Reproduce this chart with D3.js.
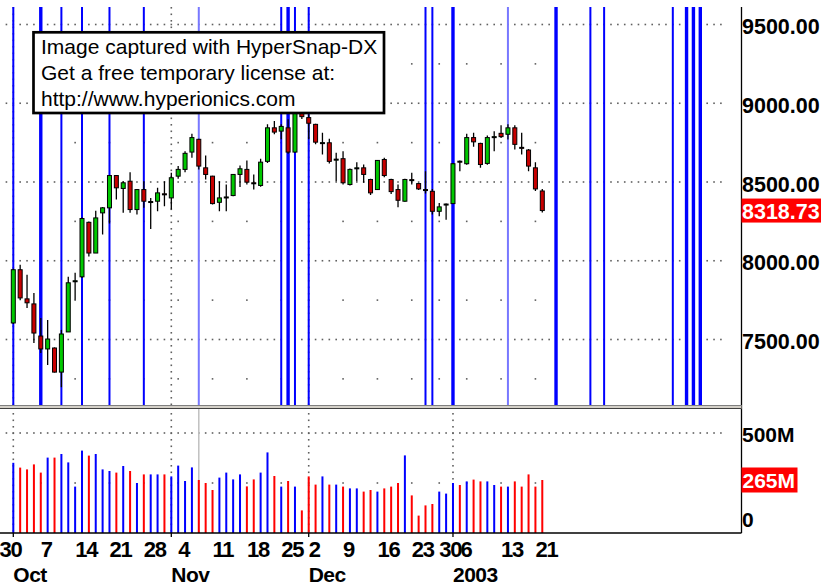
<!DOCTYPE html>
<html>
<head>
<meta charset="utf-8">
<script src="https://cdn.jsdelivr.net/npm/d3@7"></script>
<style>
  body { margin: 0; background: #fff; }
  text { font-family: Arial, "Liberation Sans", sans-serif; }
</style>
</head>
<body>
<div id="chart"></div>
<script>
// DJIA daily bars, Oct 1 2002 .. Jan 22 2003
var openP = [7605,7943,7758,7726,7522,7440,7446,7293,7548,7870,7898,8244,8049,8304,8336,8541,8459,8505,8325,8452,
  8372,8378,8425,8399,8537,8580,8690,8771,8590,8537,8371,8400,8414,8548,8580,8495,8478,8631,8844,8823,
  8844,8690,8950,8909,8866,8745,8749,8640,8648,8484,8588,8590,8516,8452,8643,8516,8452,8378,8515,8490,
  8452,8441,8314,8357,8363,8632,8616,8782,8745,8618,8785,8809,8803,8844,8720,8703,8590,8443];
var highP = [7950,7975,7911,7796,7637,7624,7450,7561,7898,7924,8275,8250,8318,8342,8545,8545,8505,8562,8455,8505,
  8399,8463,8505,8559,8601,8696,8807,8775,8669,8540,8505,8484,8550,8605,8637,8548,8648,8866,8887,8866,
  8898,8960,8990,8930,8870,8813,8775,8686,8696,8585,8626,8611,8520,8640,8654,8520,8484,8520,8559,8495,
  8569,8456,8367,8363,8620,8637,8807,8813,8750,8796,8822,8860,8866,8860,8813,8710,8626,8456];
var lowP = [7598,7750,7700,7478,7414,7338,7290,7197,7548,7752,7890,8027,8049,8166,8236,8389,8304,8304,8293,8336,
  8202,8314,8346,8325,8520,8562,8654,8580,8516,8357,8314,8314,8410,8469,8484,8452,8470,8620,8803,8771,
  8680,8685,8900,8771,8739,8675,8617,8505,8484,8478,8505,8495,8418,8450,8530,8424,8340,8375,8484,8450,
  8427,8293,8282,8260,8360,8569,8610,8724,8590,8610,8696,8780,8770,8707,8675,8569,8443,8306];
var closeP = [7943,7764,7733,7541,7440,7503,7293,7535,7860,7873,8268,8049,8272,8336,8541,8463,8495,8325,8452,8378,
  8376,8431,8420,8527,8580,8682,8782,8601,8548,8363,8399,8405,8548,8584,8499,8490,8626,8844,8817,8853,
  8690,8941,8915,8873,8753,8750,8631,8645,8495,8580,8590,8548,8431,8637,8541,8439,8384,8516,8510,8456,
  8448,8314,8342,8360,8616,8630,8782,8755,8611,8782,8788,8788,8844,8739,8717,8601,8456,8318.73];
// volume, millions of shares
var volume = [351,327,318,343,302,377,377,395,353,232,412,387,395,318,310,302,335,310,250,293,
  293,293,293,283,337,260,328,265,250,215,277,302,268,293,233,268,302,403,285,232,
  260,232,113,283,242,283,242,242,232,223,223,207,215,207,223,232,250,388,188,87,
  138,145,207,197,250,240,258,267,258,258,240,232,232,258,232,293,232,265];

var priceTicks = [9500, 9000, 8500, 8000, 7500];
var priceHalf = [9250, 8750, 8250, 7750, 7250];
var volTicks = [500];
var lastPrice = "8318.73";
var lastVol = "265M";

// bar index of first trading day of each week / month
var weekStarts = [4,9,14,19,24,29,34,39,43,48,53,58,62,66,71,76];
var dayTicks = [[-2,"30"],[4,"7"],[9,"14"],[14,"21"],[19,"28"],[24,"4"],[29,"11"],[34,"18"],[39,"25"],
  [43,"2"],[48,"9"],[53,"16"],[58,"23"],[62,"30"],[65.1,"6"],[71,"13"],[76,"21"]];
var monthStarts = [0, 23, 43, 64];
var monthNames = ["Oct", "Nov", "Dec", "2003"];

// blue time-cycle lines (bar index, past the last bar too)
var cycleBars = [0,4,7,10,14,19,27,39,40,41,43,60,61,64,72,79,84,86,96,98,99,100];
var heavyBars = [4,40,64,79,98,99,100];
var faintBars = [27,72];
var cursorBar = 27;

var noteLines = ["Image captured with HyperSnap-DX", "Get a free temporary license at:", "http://www.hyperionics.com"];

var w = 821, h = 587;
var right = 741.5;
var priceTop = 7, priceBottom = 405, volTop = 409, volBottom = 533;

var svg = d3.select("#chart").append("svg")
    .attr("width", w)
    .attr("height", h);

var x = d3.scaleLinear().domain([0, 100]).range([13.3, 700.3]);
var y = d3.scaleLinear().domain([7500, 9500]).range([339.5, 24.5]);
var yv = d3.scaleLinear().domain([0, 500]).range([volBottom, 433]);

svg.append("clipPath").attr("id", "pclip")
    .append("rect").attr("x", 0).attr("y", priceTop).attr("width", right).attr("height", priceBottom - priceTop);

var gp = svg.append("g").attr("clip-path", "url(#pclip)");
var gv = svg.append("g");

var dense = d3.range(-1, 104);

// dotted horizontal grid, price
priceTicks.forEach(function(p) {
    gp.selectAll(null).data(dense).enter().append("rect")
        .attr("x", function(i) { return x(i) - 0.8; })
        .attr("y", y(p) - 0.8)
        .attr("width", 1.6).attr("height", 1.6)
        .attr("fill", "#606060");
});
priceHalf.forEach(function(p) {
    gp.selectAll(null).data(weekStarts).enter().append("rect")
        .attr("x", function(i) { return x(i) - 0.8; })
        .attr("y", y(p) - 0.8)
        .attr("width", 1.6).attr("height", 1.6)
        .attr("fill", "#606060");
});

// dotted grid, volume
volTicks.forEach(function(v) {
    gv.selectAll(null).data(dense.filter(function(i) { return x(i) < right - 3; })).enter().append("rect")
        .attr("x", function(i) { return x(i) - 0.8; })
        .attr("y", yv(v) - 0.8)
        .attr("width", 1.6).attr("height", 1.6)
        .attr("fill", "#606060");
});
gv.selectAll(null).data(weekStarts).enter().append("rect")
    .attr("x", function(i) { return x(i) - 0.8; })
    .attr("y", yv(250) - 0.8)
    .attr("width", 1.6).attr("height", 1.6)
    .attr("fill", "#606060");

// month separators (dotted verticals)
monthStarts.forEach(function(m) {
    gp.selectAll(null).data(d3.range(priceTop, priceBottom, 6.5)).enter().append("rect")
        .attr("x", x(m) - 0.8).attr("y", function(d) { return d; })
        .attr("width", 1.6).attr("height", 1.6).attr("fill", "#606060");
    gv.selectAll(null).data(d3.range(volTop + 4, volBottom, 6.5)).enter().append("rect")
        .attr("x", x(m) - 0.8).attr("y", function(d) { return d; })
        .attr("width", 1.6).attr("height", 1.6).attr("fill", "#606060");
});

// cycle lines
gp.selectAll("line.cycle")
    .data(cycleBars)
    .enter()
    .append("line")
    .attr("class", "cycle")
    .attr("x1", function(i) { return x(i); })
    .attr("x2", function(i) { return x(i); })
    .attr("y1", priceTop)
    .attr("y2", priceBottom)
    .attr("stroke", function(i) { return faintBars.indexOf(i) >= 0 ? "#7878ff" : "#0000ff"; })
    .attr("stroke-width", function(i) { return heavyBars.indexOf(i) >= 0 ? 3.4 : 2; });

// crosshair in volume pane
gv.append("line")
    .attr("x1", x(cursorBar)).attr("x2", x(cursorBar))
    .attr("y1", volTop).attr("y2", volBottom)
    .attr("stroke", "#c0c0c0").attr("stroke-width", 1.5);

// candles
var bars = d3.range(openP.length);
var up = function(i) { return closeP[i] >= openP[i]; };

gp.selectAll("line.wick")
    .data(bars)
    .enter()
    .append("line")
    .attr("class", "wick")
    .attr("x1", function(i) { return x(i); })
    .attr("x2", function(i) { return x(i); })
    .attr("y1", function(i) { return y(highP[i]); })
    .attr("y2", function(i) { return y(lowP[i]); })
    .attr("stroke", "#000")
    .attr("stroke-width", 1.3);

gp.selectAll("rect.body")
    .data(bars)
    .enter()
    .append("rect")
    .attr("class", "body")
    .attr("x", function(i) { return x(i) - 2; })
    .attr("width", 4)
    .attr("y", function(i) { return y(Math.max(openP[i], closeP[i])); })
    .attr("height", function(i) { return Math.max(1, Math.abs(y(openP[i]) - y(closeP[i]))); })
    .attr("fill", function(i) { return up(i) ? "#00c800" : "#c80000"; })
    .attr("stroke", "#000")
    .attr("stroke-width", 1);

// volume bars
gv.selectAll("rect.vol")
    .data(bars)
    .enter()
    .append("rect")
    .attr("class", "vol")
    .attr("x", function(i) { return x(i) - 1; })
    .attr("width", 2)
    .attr("y", function(i) { return yv(volume[i]); })
    .attr("height", function(i) { return yv(0) - yv(volume[i]); })
    .attr("fill", function(i) { return up(i) ? "#0000ff" : "#ff0000"; });

// note box
var note = svg.append("g");
note.append("rect")
    .attr("x", 33.5).attr("y", 32.3)
    .attr("width", 350.5).attr("height", 80.7)
    .attr("fill", "#fff")
    .attr("stroke", "#000")
    .attr("stroke-width", 2.7);
note.selectAll("text")
    .data(noteLines)
    .enter()
    .append("text")
    .attr("x", 41)
    .attr("y", function(d, k) { return 53.5 + k * 26; })
    .attr("font-size", "21px")
    .attr("fill", "#000")
    .text(function(d) { return d; });

// pane frames
svg.append("line").attr("x1", right).attr("x2", right).attr("y1", priceTop).attr("y2", volBottom)
    .attr("stroke", "#000").attr("stroke-width", 1.3);
svg.append("rect").attr("x", 0).attr("y", priceBottom).attr("width", right).attr("height", volTop - priceBottom)
    .attr("fill", "#d4d0c8");
svg.append("line").attr("x1", 0).attr("x2", right).attr("y1", priceBottom + 0.5).attr("y2", priceBottom + 0.5)
    .attr("stroke", "#808080");
svg.append("line").attr("x1", 0).attr("x2", right).attr("y1", volTop - 0.5).attr("y2", volTop - 0.5)
    .attr("stroke", "#404040");
svg.append("line").attr("x1", 0).attr("x2", right).attr("y1", volBottom).attr("y2", volBottom)
    .attr("stroke", "#000").attr("stroke-width", 1.5);

// month ticks under axis
svg.selectAll("line.mtick")
    .data(monthStarts)
    .enter()
    .append("line")
    .attr("class", "mtick")
    .attr("x1", function(i) { return x(i); })
    .attr("x2", function(i) { return x(i); })
    .attr("y1", volBottom).attr("y2", volBottom + 4)
    .attr("stroke", "#000").attr("stroke-width", 1.3);

// right price labels
svg.selectAll("text.plab")
    .data(priceTicks)
    .enter()
    .append("text")
    .attr("class", "plab")
    .attr("x", 742)
    .attr("y", function(p) { return y(p) + 9.5; })
    .attr("font-size", "21.5px")
    .attr("font-weight", "bold")
    .attr("fill", "#000")
    .text(function(p) { return d3.format(".2f")(p); });

var lastY = y(+lastPrice);
svg.append("rect").attr("x", 741.5).attr("y", lastY - 12).attr("width", 79.5).attr("height", 24).attr("fill", "#ff0000");
svg.append("text").attr("x", 742).attr("y", lastY + 8.5)
    .attr("font-size", "21.5px").attr("font-weight", "bold").attr("fill", "#fff").text(lastPrice);

// volume labels
svg.selectAll("text.vlab")
    .data(volTicks)
    .enter()
    .append("text")
    .attr("class", "vlab")
    .attr("x", 742)
    .attr("y", function(v) { return yv(v) + 8.5; })
    .attr("font-size", "21px")
    .attr("font-weight", "bold")
    .attr("fill", "#000")
    .text(function(v) { return v + "M"; });

var lvY = yv(parseFloat(lastVol));
svg.append("rect").attr("x", 741.5).attr("y", lvY - 12.5).attr("width", 56).attr("height", 25).attr("fill", "#ff0000");
svg.append("text").attr("x", 742.5).attr("y", lvY + 8)
    .attr("font-size", "21px").attr("font-weight", "bold").attr("fill", "#fff").text(lastVol);

svg.append("text").attr("x", 742).attr("y", volBottom - 6)
    .attr("font-size", "21px").attr("font-weight", "bold").attr("fill", "#000").text("0");

// date labels
svg.selectAll("text.day")
    .data(dayTicks)
    .enter()
    .append("text")
    .attr("class", "day")
    .attr("x", function(d) { return x(d[0]); })
    .attr("y", 557)
    .attr("font-size", "22px")
    .attr("font-weight", "bold")
    .attr("letter-spacing", "-1.2px")
    .attr("fill", "#000")
    .text(function(d) { return d[1]; });

svg.selectAll("text.month")
    .data(monthStarts)
    .enter()
    .append("text")
    .attr("class", "month")
    .attr("x", function(i) { return x(i); })
    .attr("y", 581.5)
    .attr("font-size", "21px")
    .attr("font-weight", "bold")
    .attr("letter-spacing", "-0.5px")
    .attr("fill", "#000")
    .text(function(i, k) { return monthNames[k]; });
</script>
</body>
</html>
